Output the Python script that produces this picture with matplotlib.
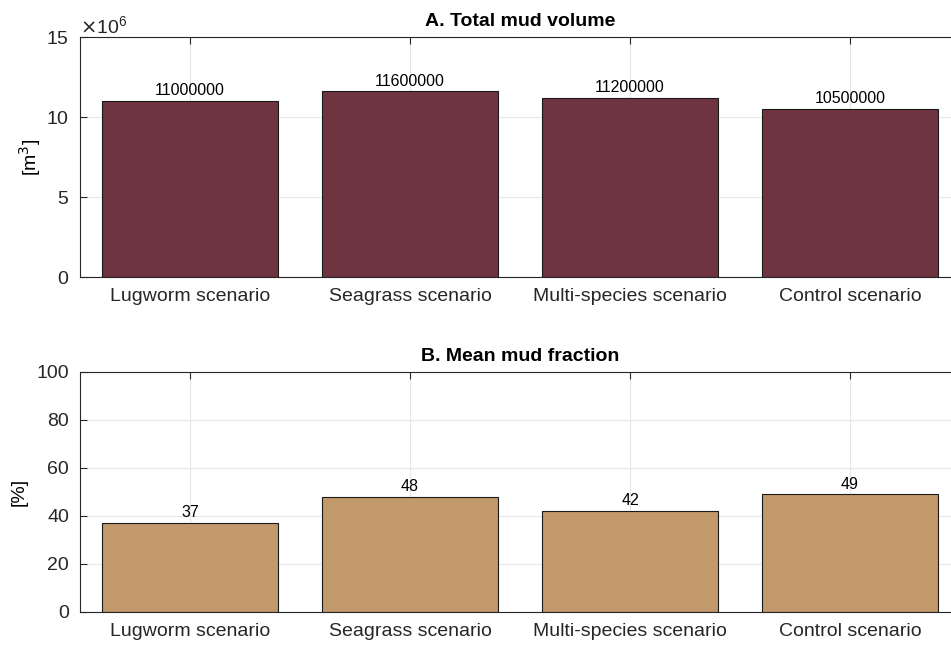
import matplotlib.pyplot as plt
from matplotlib.ticker import ScalarFormatter

plt.rcParams['font.family'] = ['Liberation Sans', 'DejaVu Sans']

scenarios = ["Lugworm scenario", "Seagrass scenario", "Multi-species scenario", "Control scenario"]
mud_volume = [11000000, 11600000, 11200000, 10500000]
mud_fraction = [37, 48, 42, 49]

x = [1, 2, 3, 4]
W, H = 951, 647
fig = plt.figure(figsize=(W / 100, H / 100), dpi=100)

ax1 = fig.add_axes([80 / W, 1 - 277 / H, 880 / W, 240 / H])
ax2 = fig.add_axes([80 / W, 1 - 612 / H, 880 / W, 240 / H])


def style(ax):
    ax.set_xlim(0.5, 4.5)
    ax.set_xticks(x)
    ax.set_xticklabels(scenarios)
    ax.tick_params(direction='in', top=True, length=5, labelsize=14,
                   colors='#262626', pad=8)
    ax.grid(True, color='#e6e6e6', linewidth=0.8)
    ax.set_axisbelow(True)
    for s in ax.spines.values():
        s.set_color('#262626')
        s.set_linewidth(0.8)


b1 = ax1.bar(x, mud_volume, width=0.8, color='#6e3540', edgecolor='#1a1a1a', linewidth=0.8)
ax1.bar_label(b1, labels=[str(v) for v in mud_volume], fontsize=11.5, padding=2)
ax1.set_ylim(0, 15e6)
ax1.set_yticks([0, 5e6, 10e6, 15e6])
fmt = ScalarFormatter(useMathText=True)
fmt.set_powerlimits((6, 6))
ax1.yaxis.set_major_formatter(fmt)
ax1.yaxis.get_offset_text().set_fontsize(14)
ax1.yaxis.get_offset_text().set_color('#262626')
ax1.set_ylabel('[m$^3$]', fontsize=14, labelpad=2)
ax1.set_title('A. Total mud volume', fontsize=14, fontweight='bold', pad=8)
style(ax1)

b2 = ax2.bar(x, mud_fraction, width=0.8, color='#c2996b', edgecolor='#1a1a1a', linewidth=0.8)
ax2.bar_label(b2, labels=[str(v) for v in mud_fraction], fontsize=11.5, padding=2)
ax2.set_ylim(0, 100)
ax2.set_yticks([0, 20, 40, 60, 80, 100])
ax2.set_ylabel('[%]', fontsize=14, labelpad=6)
ax2.set_title('B. Mean mud fraction', fontsize=14, fontweight='bold', pad=8)
style(ax2)

fig.savefig('out.png', dpi=100)
